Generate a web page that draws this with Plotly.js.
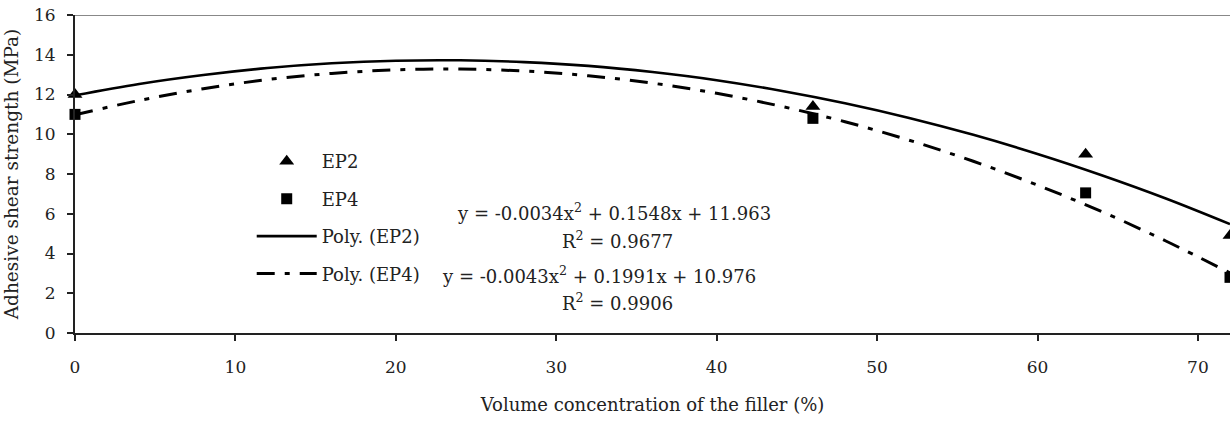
<!DOCTYPE html>
<html>
<head>
<meta charset="utf-8">
<script src="https://cdn.plot.ly/plotly-3.0.1.min.js"></script>
<style>html,body{margin:0;padding:0;background:#fff;}#chart{width:1230px;height:421px;}</style>
</head>
<body>
<div id="chart"></div>
<script>
// Measured points
const concentration = [0, 46, 63, 72];
const ep2 = [12.0, 11.4, 9.0, 4.9];
const ep4 = [11.0, 10.8, 7.05, 2.8];

// Trend curves
const curveX = [0, 4, 8, 12, 16, 20, 24, 28, 32, 36, 40, 44, 48, 52, 56, 60, 64, 68, 72];
const polyEP2 = [11.96, 12.53, 12.98, 13.33, 13.57, 13.70, 13.72, 13.63, 13.44, 13.13, 12.72, 12.19, 11.56, 10.82, 9.97, 9.01, 7.94, 6.77, 5.48];
const polyEP4 = [10.98, 11.70, 12.29, 12.75, 13.06, 13.24, 13.28, 13.18, 12.94, 12.57, 12.06, 11.41, 10.63, 9.70, 8.64, 7.44, 6.11, 4.63, 3.02];

const xTicks = [0, 10, 20, 30, 40, 50, 60, 70];
const yTicks = [0, 2, 4, 6, 8, 10, 12, 14, 16];

const eq2Text = 'y = -0.0034x<sup>2</sup> + 0.1548x + 11.963';
const r2Text2 = 'R<sup>2</sup> = 0.9677';
const eq4Text = 'y = -0.0043x<sup>2</sup> + 0.1991x + 10.976';
const r2Text4 = 'R<sup>2</sup> = 0.9906';

const FONT = 'DejaVu Serif';
const TXT = '#222';

const traces = [
  {x: concentration, y: ep2, name: 'EP2', mode: 'markers', type: 'scatter', legendgroup: 'a',
   marker: {symbol: 'triangle-up', size: 13, color: '#000'}, cliponaxis: false},
  {x: concentration, y: ep4, name: 'EP4', mode: 'markers', type: 'scatter', legendgroup: 'b',
   marker: {symbol: 'square', size: 11, color: '#000'}, cliponaxis: false},
  {x: curveX, y: polyEP2, name: 'Poly. (EP2)', mode: 'lines', type: 'scatter', legendgroup: 'c',
   line: {color: '#000', width: 2.6, shape: 'spline'}},
  {x: curveX, y: polyEP4, name: 'Poly. (EP4)', mode: 'lines', type: 'scatter', legendgroup: 'd',
   line: {color: '#000', width: 3, dash: '18px,10px,5px,10px', shape: 'spline'}}
];

const layout = {
  width: 1230, height: 421,
  margin: {l: 75, r: 0, t: 15, b: 88},
  paper_bgcolor: '#fff', plot_bgcolor: '#fff',
  font: {family: FONT, size: 18, color: TXT},
  showlegend: true,
  legend: {x: 0.153, y: 0.597, xanchor: 'left', yanchor: 'top', bgcolor: 'rgba(0,0,0,0)',
           traceorder: 'grouped', tracegroupgap: 11, itemwidth: 60,
           font: {family: FONT, size: 18, color: TXT}},
  xaxis: {range: [0, 72], tickvals: xTicks, ticks: 'outside', ticklen: 6, tickwidth: 2, tickcolor: '#222',
          showline: true, linecolor: '#222', linewidth: 2, showgrid: false, zeroline: false,
          ticklabelstandoff: 12,
          tickfont: {family: FONT, size: 17, color: TXT},
          title: {text: 'Volume concentration of the filler (%)', font: {family: FONT, size: 18, color: TXT}, standoff: 22}},
  yaxis: {range: [0, 16], tickvals: yTicks, ticks: 'outside', ticklen: 6, tickwidth: 2, tickcolor: '#222',
          showline: true, linecolor: '#222', linewidth: 2, showgrid: false, zeroline: false,
          ticklabelstandoff: 8,
          tickfont: {family: FONT, size: 17, color: TXT},
          title: {text: 'Adhesive shear strength (MPa)', font: {family: FONT, size: 18.5, color: TXT}, standoff: 10}},
  shapes: [
    {type: 'line', xref: 'paper', yref: 'y', x0: 0, x1: 1, y0: 16, y1: 16, line: {color: '#888', width: 2}}
  ],
  annotations: [
    {x: 23.7, y: 6.1, xref: 'x', yref: 'y', text: eq2Text, showarrow: false, xanchor: 'left', font: {family: FONT, size: 18, color: TXT}},
    {x: 33.8, y: 4.68, xref: 'x', yref: 'y', text: r2Text2, showarrow: false, xanchor: 'center', font: {family: FONT, size: 18, color: TXT}},
    {x: 22.75, y: 2.92, xref: 'x', yref: 'y', text: eq4Text, showarrow: false, xanchor: 'left', font: {family: FONT, size: 18, color: TXT}},
    {x: 33.8, y: 1.56, xref: 'x', yref: 'y', text: r2Text4, showarrow: false, xanchor: 'center', font: {family: FONT, size: 18, color: TXT}}
  ]
};

Plotly.newPlot('chart', traces, layout, {staticPlot: true, displayModeBar: false});
</script>
</body>
</html>
